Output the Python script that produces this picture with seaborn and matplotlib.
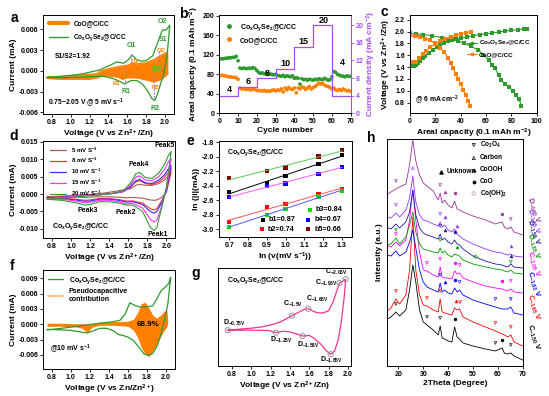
import numpy as np
import matplotlib
matplotlib.use('Agg')
import matplotlib.pyplot as plt
import seaborn as sns
from matplotlib.lines import Line2D
from matplotlib.ticker import FormatStrFormatter

# ---------------- data ----------------
CHEM = r'Co$_x$O$_y$Se$_z$@C/CC'

# panel a : CV @ 5 mV/s
a_g_v_up = [0.75, 0.9, 1.1, 1.3, 1.4, 1.49, 1.56, 1.61, 1.65, 1.7, 1.75, 1.8, 1.87, 1.92, 1.96, 1.98, 2.01, 2.05]
a_g_i_up = [-0.00095, -0.0008, -0.0005, 0.0001, 0.0007, 0.0013, 0.0011, 0.0016, 0.0023, 0.0016, 0.0014, 0.0015, 0.0022, 0.0040, 0.0055, 0.0060, 0.0059, 0.0066]
a_g_v_lo = [2.05, 2.02, 1.98, 1.95, 1.92, 1.89, 1.86, 1.82, 1.76, 1.70, 1.64, 1.60, 1.57, 1.53, 1.45, 1.35, 1.25, 1.10, 0.90, 0.75]
a_g_i_lo = [0.0066, 0.0020, -0.0008, -0.0020, -0.0034, -0.0043, -0.0040, -0.0030, -0.0019, -0.0014, -0.0014, -0.0017, -0.0019, -0.0016, -0.0011, -0.0008, -0.0008, -0.0009, -0.0010, -0.00095]
a_co_v = [0.75, 0.9, 1.0, 1.1, 1.2, 1.28, 1.32, 1.4, 1.5, 1.55, 1.6, 1.65, 1.7, 1.8, 1.88, 1.95, 2.0, 2.03]
a_co_up = [-0.0009, -0.0008, -0.0007, -0.0006, -0.0005, -0.0004, 0.0000, 0.0003, 0.0006, 0.0007, 0.0008, 0.0011, 0.0010, 0.0012, 0.0016, 0.0022, 0.0026, 0.0026]
a_co_lo = [-0.0011, -0.0012, -0.0012, -0.0012, -0.0012, -0.0010, -0.0008, -0.0007, -0.0009, -0.0012, -0.0010, -0.0010, -0.0010, -0.0013, -0.0016, -0.0013, -0.0008, -0.0004]

# panel b : rate performance
b_cycles = list(range(1, 71))
b_green = [112, 112, 113, 113, 114, 114, 115, 115, 117, 108,
           93, 92, 93, 92, 92, 93, 92, 94, 92, 88,
           84, 82, 83, 81, 82, 80, 81, 80, 79, 80,
           78, 77, 76, 78, 75, 77, 76, 75, 77, 72,
           73, 72, 60, 71, 69, 70, 68, 70, 69, 68,
           70, 69, 71, 70, 69, 72, 70, 68, 69, 75,
           86, 84, 80, 78, 77, 76, 75, 77, 76, 76]
b_orange = [78, 78, 77, 76, 75, 75, 74, 74, 73, 70,
            52, 50, 51, 49, 50, 49, 48, 50, 49, 47,
            47, 46, 46, 47, 45, 46, 45, 47, 48, 46,
            48, 47, 50, 44, 52, 48, 53, 50, 49, 52,
            42, 52, 50, 54, 53, 49, 52, 55, 50, 53,
            55, 58, 62, 60, 62, 58, 56, 55, 53, 50,
            52, 48, 47, 49, 47, 50, 48, 46, 47, 45]
b_cd_edges = [0, 10, 20, 30, 40, 50, 60, 70]
b_cd_vals = [4, 6, 8, 10, 15, 20, 4]
b_cd_labels = ['4', '6', '8', '10', '15', '20', '4']

# panel c : charge / discharge @ 6 mA cm-2
c_g_ch_x = [0, 3, 5, 6, 8, 10, 12, 15, 18, 21, 24, 27, 30, 33, 36, 40, 45, 50, 55, 60, 65, 70, 75, 80, 85, 90, 92]
c_g_ch_y = [1.42, 1.42, 1.43, 1.47, 1.51, 1.55, 1.59, 1.64, 1.69, 1.74, 1.78, 1.81, 1.84, 1.86, 1.88, 1.89, 1.91, 1.93, 1.95, 1.96, 1.98, 1.99, 2.01, 2.02, 2.03, 2.05, 2.05]
c_g_dis_x = [0, 5, 10, 17, 25, 33, 38, 43, 48, 54, 58, 62, 65, 67, 70, 72, 75, 78, 81, 84, 86, 88]
c_g_dis_y = [1.97, 1.96, 1.95, 1.93, 1.90, 1.87, 1.84, 1.80, 1.75, 1.69, 1.61, 1.52, 1.44, 1.38, 1.27, 1.18, 1.12, 1.07, 1.00, 0.93, 0.86, 0.75]
c_o_ch_x = [0, 3, 5, 7, 10, 13, 16, 20, 24, 28, 32, 36, 40, 44, 48]
c_o_ch_y = [1.49, 1.49, 1.49, 1.55, 1.62, 1.68, 1.74, 1.79, 1.84, 1.88, 1.91, 1.94, 1.96, 1.98, 2.00]
c_o_dis_x = [0, 4, 8, 12, 16, 20, 24, 27, 30, 32, 34, 36, 38, 40, 42, 44, 46, 47.5]
c_o_dis_y = [1.94, 1.93, 1.91, 1.88, 1.85, 1.80, 1.73, 1.65, 1.56, 1.47, 1.38, 1.29, 1.20, 1.12, 1.02, 0.93, 0.83, 0.75]

# panel d : CV at different scan rates
d_rates = ['5 mV S$^{-1}$', '8 mV S$^{-1}$', '10 mV S$^{-1}$', '15 mV S$^{-1}$', '20 mV S$^{-1}$']
d_v_up = [0.75, 0.9, 1.1, 1.3, 1.45, 1.55, 1.62, 1.68, 1.72, 1.78, 1.85, 1.92, 1.98, 2.02, 2.05]
d_i_up = [
    [-0.0008, -0.0006, -0.0003, 0.0001, 0.0007, 0.0012, 0.0015, 0.0025, 0.0028, 0.0025, 0.0025, 0.0030, 0.0040, 0.0052, 0.0062],
    [-0.0010, -0.0008, -0.0004, -0.0001, 0.0002, 0.0007, 0.0019, 0.0035, 0.0038, 0.0030, 0.0027, 0.0035, 0.0048, 0.0062, 0.0072],
    [-0.0012, -0.0009, -0.0005, -0.0002, 0.0002, 0.0007, 0.0020, 0.0038, 0.0042, 0.0032, 0.0030, 0.0040, 0.0055, 0.0072, 0.0082],
    [-0.0013, -0.0010, -0.0005, -0.0002, 0.0002, 0.0008, 0.0025, 0.0048, 0.0052, 0.0040, 0.0038, 0.0050, 0.0070, 0.0092, 0.0102],
    [-0.0015, -0.0012, -0.0007, -0.0003, 0.0002, 0.0010, 0.0030, 0.0058, 0.0062, 0.0047, 0.0045, 0.0060, 0.0085, 0.0110, 0.0122]]
d_v_lo = [2.05, 2.0, 1.95, 1.9, 1.87, 1.83, 1.75, 1.65, 1.58, 1.5, 1.4, 1.3, 1.2, 1.15, 1.05, 0.9, 0.75]
d_i_lo = [
    [0.0062, 0.0005, -0.0010, -0.0017, -0.0018, -0.0017, -0.0012, -0.0010, -0.0011, -0.0009, -0.0008, -0.0008, -0.0009, -0.0010, -0.0009, -0.0008, -0.0008],
    [0.0072, 0.0008, -0.0020, -0.0042, -0.0046, -0.0042, -0.0026, -0.0020, -0.0020, -0.0016, -0.0013, -0.0013, -0.0017, -0.0018, -0.0015, -0.0012, -0.0010],
    [0.0082, 0.0010, -0.0025, -0.0050, -0.0055, -0.0050, -0.0030, -0.0022, -0.0023, -0.0018, -0.0015, -0.0015, -0.0020, -0.0021, -0.0017, -0.0013, -0.0012],
    [0.0102, 0.0015, -0.0035, -0.0075, -0.0080, -0.0072, -0.0040, -0.0027, -0.0028, -0.0022, -0.0018, -0.0018, -0.0024, -0.0026, -0.0020, -0.0015, -0.0013],
    [0.0122, 0.0020, -0.0040, -0.0095, -0.0105, -0.0095, -0.0050, -0.0032, -0.0032, -0.0026, -0.0022, -0.0022, -0.0030, -0.0032, -0.0025, -0.0018, -0.0015]]

# panel e : b-values
e_logv = [0.699, 0.903, 1.0, 1.176, 1.301]
e_peak1 = [-2.49, -2.36, -2.27, -2.10, -1.98]
e_peak2 = [-2.90, -2.69, -2.65, -2.52, -2.45]
e_peak3 = [-2.97, -2.80, -2.72, -2.55, -2.47]
e_peak4 = [-2.56, -2.40, -2.37, -2.24, -2.14]
e_peak5 = [-2.30, -2.20, -2.15, -2.00, -1.91]
e_labels = ['b1=0.87', 'b2=0.74', 'b3=0.84', 'b4=0.67', 'b5=0.66']

# panel f : capacitive contribution @ 10 mV/s
f_v_up = [0.75, 0.9, 1.1, 1.3, 1.45, 1.52, 1.57, 1.62, 1.67, 1.72, 1.8, 1.86, 1.9, 1.95, 1.99, 2.03, 2.05]
f_i_up = [-0.0011, -0.0008, -0.0003, 0.0002, 0.0005, 0.0008, 0.0020, 0.0042, 0.0037, 0.0034, 0.0034, 0.0036, 0.0048, 0.0066, 0.0072, 0.0080, 0.0092]
f_v_lo = [2.05, 2.02, 1.98, 1.94, 1.9, 1.86, 1.82, 1.77, 1.72, 1.66, 1.6, 1.55, 1.5, 1.45, 1.38, 1.3, 1.22, 1.17, 1.1, 1.0, 0.9, 0.75]
f_i_lo = [0.0092, 0.0040, 0.0005, -0.0025, -0.0045, -0.0057, -0.0061, -0.0058, -0.0046, -0.0032, -0.0025, -0.0022, -0.0020, -0.0013, -0.0008, -0.0008, -0.0014, -0.0017, -0.0015, -0.0012, -0.0011, -0.0010]
f_o_v = [0.75, 0.9, 1.05, 1.12, 1.17, 1.22, 1.3, 1.45, 1.6, 1.66, 1.7, 1.74, 1.78, 1.82, 1.86, 1.9, 1.94, 1.98, 2.01, 2.02]
f_o_up = [0.0002, 0.0002, 0.0001, 0.0001, 0.0000, 0.0001, 0.0004, 0.0005, 0.0006, 0.0010, 0.0022, 0.0040, 0.0043, 0.0032, 0.0018, 0.0012, 0.0017, 0.0025, 0.0027, 0.0005]
f_o_lo = [-0.0004, -0.0004, -0.0005, -0.0008, -0.0017, -0.0006, -0.0002, -0.0002, -0.0004, -0.0012, -0.0025, -0.0045, -0.0058, -0.0063, -0.0052, -0.0040, -0.0025, -0.0012, -0.0005, 0.0005]
f_percent = '68.9%'

# panel g : ex-situ points on CV (arbitrary current units)
g_v_up = [0.76, 0.9, 1.0, 1.1, 1.2, 1.3, 1.42, 1.5, 1.55, 1.59, 1.63, 1.68, 1.74, 1.8, 1.85, 1.91, 1.94, 1.975]
g_i_up = [36.3, 37.5, 38.3, 39.5, 41.5, 44.5, 51, 55, 57.5, 58, 56, 54, 53.7, 56, 66, 84.3, 85.5, 88]
g_v_lo = [1.975, 1.96, 1.93, 1.9, 1.86, 1.82, 1.78, 1.72, 1.65, 1.6, 1.53, 1.47, 1.4, 1.33, 1.255, 1.18, 1.0, 0.76]
g_i_lo = [88, 70, 45, 27, 15, 12, 15, 22, 28, 31, 30.3, 32.5, 34.5, 35.3, 33.7, 36, 36.3, 36.3]
g_pts_v = [0.76, 1.255, 1.53, 1.82, 1.42, 1.59, 1.91, 1.975]
g_pts_i = [36.3, 33.7, 30.3, 12, 51, 58, 84.3, 88]
g_pts_lab = ['D$_{-0.75V}$', 'D$_{-1.25V}$', 'D$_{-1.55V}$', 'D$_{-1.85V}$',
             'C$_{-1.5V}$', 'C$_{-1.65V}$', 'C$_{-1.93V}$', 'C$_{-2.05V}$']

# panel h : ex-situ XRD (stacked, arbitrary units)
h_tt = [15, 17, 19, 20.5, 23, 24.5, 25.8, 27, 28.5, 30, 31.5, 34, 36, 36.8, 37.6, 38.6, 40, 41.5, 42.6, 43.6, 44.6, 46, 50, 55, 59, 61.7, 62.6, 64, 65.2, 66.5, 70]
h_C150 = [50, 53, 58, 54, 60, 80, 105, 88, 60, 48, 45, 40, 35, 44, 32, 31, 29, 28, 43, 33, 31, 27, 24, 21, 19, 22, 17, 16, 17, 14, 10]
h_C165 = [58, 62, 71, 66, 75, 100, 153, 100, 75, 65, 64, 60, 58, 71, 58, 57, 56, 55, 62, 60, 61, 53, 48, 43, 39, 36, 35, 33, 35, 28, 24]
h_C193 = [115, 114, 119, 114, 118, 128, 140, 122, 100, 88, 83, 80, 78, 87, 78, 80, 77, 76, 82, 78, 80, 75, 70, 66, 63, 61, 61, 61, 63, 57, 55]
h_C205 = [125, 123, 128, 124, 130, 150, 180, 150, 118, 100, 99, 95, 93, 103, 93, 92, 92, 91, 99, 96, 97, 92, 88, 84, 82, 81, 80, 79, 81, 78, 77]
h_D185 = [125, 126, 132, 126, 133, 145, 158, 138, 126, 121, 120, 118, 117, 122, 117, 119, 115, 113, 116, 115, 114, 110, 106, 103, 101, 100, 99, 98, 100, 97, 96]
h_D155 = [143, 141, 146, 142, 148, 158, 180, 155, 142, 137, 135, 133, 131, 136, 130, 132, 128, 126, 130, 126, 125, 121, 114, 109, 106, 105, 104, 103, 106, 103, 102]
h_D125 = [153, 152, 157, 153, 160, 172, 194, 168, 155, 150, 149, 146, 144, 148, 143, 145, 140, 138, 141, 136, 134, 131, 126, 121, 118, 117, 116, 115, 116, 114, 113]
h_D075 = [175, 178, 181, 183, 186, 205, 230, 209, 195, 187, 184, 179, 170, 177, 167, 170, 165, 162, 169, 161, 160, 158, 154, 150, 146, 148, 143, 141, 143, 138, 135]
h_names = ['C$_{-1.50}$ V', 'C$_{-1.65}$ V', 'C$_{-1.93}$ V', 'C$_{-2.05}$ V',
           'D$_{-1.85}$ V', 'D$_{-1.55}$ V', 'D$_{-1.25}$ V', 'D$_{-0.75}$ V']
h_phase_names = ['Co$_3$O$_4$', 'Carbon', 'CoOOH', 'CoO', 'Co(OH)$_2$']

# ---------------- style ----------------
sns.set_theme(style='ticks')
plt.rcParams.update({
    'font.family': ['Liberation Sans', 'DejaVu Sans'],
    'font.weight': 'bold',
    'axes.labelweight': 'bold',
    'font.size': 5.0,
    'axes.labelsize': 6,
    'xtick.labelsize': 5.0,
    'ytick.labelsize': 5.0,
    'axes.linewidth': 0.7,
    'xtick.major.width': 0.6, 'ytick.major.width': 0.6,
    'xtick.major.size': 2.2, 'ytick.major.size': 2.2,
    'xtick.major.pad': 1.5, 'ytick.major.pad': 1.5,
    'xtick.direction': 'out', 'ytick.direction': 'out',
    'mathtext.fontset': 'custom',
    'mathtext.rm': 'Liberation Sans:bold',
    'mathtext.bf': 'Liberation Sans:bold',
    'mathtext.it': 'Liberation Sans:bold:italic',
    'mathtext.default': 'bf',
    'legend.frameon': False,
    'axes.edgecolor': 'black', 'axes.labelcolor': 'black',
    'xtick.color': 'black', 'ytick.color': 'black', 'text.color': 'black',
})

ORANGE = '#ff8000'
GREEN = '#2e9a2e'
PURPLE = '#a64dff'
W, H = 549, 396
fig = plt.figure(figsize=(W / 100, H / 100), dpi=100)


def add_ax(l, t, r, b):
    return fig.add_axes([l / W, 1 - b / H, (r - l) / W, (b - t) / H])


def line(ax, x, y, color, lw=0.8, **kw):
    sns.lineplot(x=list(x), y=list(y), sort=False, estimator=None, ax=ax,
                 color=color, linewidth=lw, **kw)


def letter(s, x, y):
    fig.text(x / W, 1 - y / H, s, fontsize=10, fontweight='bold', ha='center', va='center')


LEGFS = 4.7

# ---------------- panel a ----------------
ax = add_ax(43.3, 15, 174, 114.3)
ax.fill_between(a_co_v, a_co_lo, a_co_up, color=ORANGE, lw=0)
line(ax, a_co_v, a_co_up, ORANGE, 1.0)
line(ax, a_co_v, a_co_lo, ORANGE, 1.0)
line(ax, a_g_v_up + a_g_v_lo, a_g_i_up + a_g_i_lo, GREEN, 0.9)
for xv, y0, y1 in [(1.575, -0.0016, 0.0002), (1.64, 0.0010, 0.0025), (1.88, -0.0040, -0.0005), (1.935, 0.0015, 0.0030)]:
    ax.plot([xv, xv], [y0, y1], color='#b266ff', lw=0.8, ls=(0, (2, 1.5)))
ax.set_xlim(0.71, 2.095)
ax.set_ylim(-0.0063, 0.0081)
ax.set_xticks([0.8, 1.0, 1.2, 1.4, 1.6, 1.8, 2.0])
ax.set_yticks([-0.006, -0.003, 0.0, 0.003, 0.006])
ax.yaxis.set_major_formatter(FormatStrFormatter('%.3f'))
ax.xaxis.set_major_formatter(FormatStrFormatter('%.1f'))
ax.set_xlabel('Voltage (V vs Zn$^{2+}$/Zn)', labelpad=1)
ax.set_ylabel('Current (mA)', labelpad=1)
ax.legend(handles=[Line2D([], [], color=ORANGE, lw=3), Line2D([], [], color=GREEN, lw=1)],
          labels=['CoO@C/CC', CHEM], loc='upper left', bbox_to_anchor=(0.0, 1.0),
          fontsize=LEGFS, handlelength=3.0, labelspacing=0.8, borderaxespad=0.4)
ax.text(0.835, 0.00205, 'S1/S2=1.92', fontsize=4.9, va='center')
ax.text(0.765, -0.0047, '0.75~2.05 V @ 5 mV s$^{-1}$', fontsize=4.9, va='center')
for s, x, y, c, fs in [('O1', 1.648, 0.0037, GREEN, 5), ('O2', 1.977, 0.0072, GREEN, 5),
                       ('S1', 1.98, 0.0045, GREEN, 5), ("O2'", 1.966, 0.0030, ORANGE, 4.2),
                       ("O1'", 1.69, 0.0013, ORANGE, 4.2), ('S2', 1.91, 0.0002, '#33cc33', 6),
                       ("R1'", 1.49, -0.0018, ORANGE, 4.2), ('R1', 1.59, -0.0030, GREEN, 5),
                       ("R2'", 1.906, -0.0024, ORANGE, 4.2), ('R2', 1.895, -0.0055, GREEN, 5)]:
    ax.text(x, y, s, color=c, fontsize=fs, ha='center', va='center')
letter('a', 14, 18)

# ---------------- panel b ----------------
ax = add_ax(219.3, 15, 350.7, 113.3)
sns.scatterplot(x=b_cycles, y=b_green, ax=ax, color=GREEN, s=7, edgecolor='none', marker='o')
sns.scatterplot(x=b_cycles, y=b_orange, ax=ax, color=ORANGE, s=7, edgecolor='none', marker='o')
ax.set_xlim(0, 70)
ax.set_ylim(0, 202)
ax.set_xticks(range(0, 71, 10))
ax.set_yticks(range(0, 201, 40))
ax.set_xlabel('Cycle number', labelpad=1)
ax.set_ylabel('Areal capacity (0.1 mAh m$^{-2}$)', labelpad=1)
ax2 = ax.twinx()
line(ax2, b_cd_edges, b_cd_vals + [b_cd_vals[-1]], PURPLE, 0.9, drawstyle='steps-post')
ax2.set_ylim(0, 22.3)
ax2.set_yticks(range(0, 21, 4))
ax2.spines['right'].set_color(PURPLE)
ax2.tick_params(axis='y', colors=PURPLE, width=0.6, length=2.2, pad=1.5, labelsize=5)
ax2.set_ylabel('Current density (mA cm$^{-2}$)', color=PURPLE, labelpad=1)
for s, x, y in zip(b_cd_labels, [5.3, 15.5, 25.6, 35.5, 45, 55.4, 65.7], [48, 66, 81, 103, 147, 190, 104]):
    ax.text(x, y, s, fontsize=6.5, ha='center', va='center')
ax.legend(handles=[Line2D([], [], color=GREEN, marker='o', ms=2.5, lw=0),
                   Line2D([], [], color=ORANGE, marker='o', ms=2.5, lw=0)],
          labels=[CHEM, 'CoO@C/CC'], loc='upper left', bbox_to_anchor=(0.0, 0.98),
          fontsize=5.0, handlelength=1.5, labelspacing=0.6, borderaxespad=0.3)
letter('b', 183, 14)

# ---------------- panel c ----------------
ax = add_ax(410, 15, 536.7, 113.3)
for xs, ys, c in [(c_g_ch_x, c_g_ch_y, GREEN), (c_g_dis_x, c_g_dis_y, GREEN),
                  (c_o_ch_x, c_o_ch_y, ORANGE), (c_o_dis_x, c_o_dis_y, ORANGE)]:
    line(ax, xs, ys, c, 0.8, marker='s', markersize=2.2, markeredgewidth=0)
ax.set_xlim(0, 100)
ax.set_ylim(0.62, 2.28)
ax.set_xticks(range(0, 101, 20))
ax.set_yticks([0.8, 1.0, 1.2, 1.4, 1.6, 1.8, 2.0, 2.2])
ax.yaxis.set_major_formatter(FormatStrFormatter('%.1f'))
ax.set_xlabel('Areal capacity (0.1 mAh m$^{-2}$)', labelpad=1)
ax.set_ylabel('Voltage (V vs Zn$^{2+}$/Zn)', labelpad=1)
ax.legend(handles=[Line2D([], [], color=GREEN, marker='s', ms=2.0, lw=0.8),
                   Line2D([], [], color=ORANGE, marker='s', ms=2.0, lw=0.8)],
          labels=[CHEM, 'CoO@C/CC'], loc='upper left', bbox_to_anchor=(0.42, 0.80),
          fontsize=4.5, handlelength=1.6, handletextpad=0.3, labelspacing=0.5, borderaxespad=0.2)
ax.text(0.04, 0.13, '@ 6 mA cm$^{-2}$', transform=ax.transAxes, fontsize=4.9, va='center')
letter('c', 384, 12)

# ---------------- panel d ----------------
ax = add_ax(43.3, 141, 175, 238.3)
d_cols = ['#a85a55', '#ff3030', '#3030ff', '#ff30ff', '#30a030']
for k in range(5):
    line(ax, d_v_up + d_v_lo, d_i_up[k] + d_i_lo[k], d_cols[k], 0.8)
ax.set_xlim(0.71, 2.09)
ax.set_ylim(-0.0127, 0.0152)
ax.set_xticks([0.8, 1.0, 1.2, 1.4, 1.6, 1.8, 2.0])
ax.set_yticks([-0.010, -0.005, 0.0, 0.005, 0.010, 0.015])
ax.yaxis.set_major_formatter(FormatStrFormatter('%.3f'))
ax.xaxis.set_major_formatter(FormatStrFormatter('%.1f'))
ax.set_xlabel('Voltage (V vs Zn$^{2+}$/Zn)', labelpad=1)
ax.set_ylabel('Current (mA)', labelpad=1)
ax.legend(handles=[Line2D([], [], color=c, lw=0.9) for c in d_cols], labels=d_rates,
          loc='upper left', bbox_to_anchor=(0.02, 1.0), fontsize=4.4, handlelength=2.6,
          labelspacing=0.25, borderaxespad=0.3)
for s, x, y in [('Peak5', 1.98, 0.0138), ('Peak4', 1.71, 0.0086), ('Peak3', 1.18, -0.0048),
                ('Peak2', 1.57, -0.0053), ('Peak1', 1.905, -0.0115)]:
    ax.text(x, y, s, fontsize=5, ha='center', va='center')
ax.text(0.8, -0.0093, CHEM, fontsize=5, va='center')
letter('d', 14, 136)

# ---------------- panel e ----------------
ax = add_ax(219.3, 141, 351.7, 237.3)
e_pt_cols = ['black', '#ff0000', '#00e000', '#0000ff', '#800000']
e_ln_cols = ['black', '#ff5555', '#5555ff', '#ff55ff', '#55cc55']
e_series = [e_peak1, e_peak2, e_peak3, e_peak4, e_peak5]
xx = np.array([0.699, 1.301])
for ys, pc, lc in zip(e_series, e_pt_cols, e_ln_cols):
    sl, ic = np.polyfit(e_logv, ys, 1)
    ax.plot(xx, sl * xx + ic, color=lc, lw=0.7)
    sns.scatterplot(x=e_logv, y=ys, ax=ax, color=pc, marker='s', s=9, edgecolor='none')
ax.set_xlim(0.647, 1.353)
ax.set_ylim(-3.11, -1.786)
ax.set_xticks([0.7, 0.8, 0.9, 1.0, 1.1, 1.2, 1.3])
ax.set_yticks([-3.0, -2.8, -2.6, -2.4, -2.2, -2.0, -1.8])
ax.yaxis.set_major_formatter(FormatStrFormatter('%.1f'))
ax.set_xlabel('ln (v(mV s$^{-1}$))', labelpad=1)
ax.set_ylabel('ln (|i|(mA))', labelpad=1)
ax.text(0.055, 0.88, CHEM, transform=ax.transAxes, fontsize=5, va='center')
for (mx, my), lab, c in zip([(0.327, 0.18), (0.32, 0.083), (0.685, 0.284), (0.672, 0.18), (0.672, 0.083)],
                            e_labels, e_pt_cols):
    ax.scatter([mx], [my], transform=ax.transAxes, marker='s', s=9, color=c, edgecolor='none')
    ax.text(mx + 0.045, my, lab, transform=ax.transAxes, fontsize=5.2, va='center')
letter('e', 190, 141)

# ---------------- panel f ----------------
ax = add_ax(43.3, 270, 175, 369.3)
ax.fill_between(f_o_v, f_o_lo, f_o_up, color=ORANGE, lw=0)
line(ax, f_v_up + f_v_lo, f_i_up + f_i_lo, GREEN, 0.9)
ax.set_xlim(0.71, 2.095)
ax.set_ylim(-0.0088, 0.0106)
ax.set_xticks([0.8, 1.0, 1.2, 1.4, 1.6, 1.8, 2.0])
ax.set_yticks([-0.006, -0.003, 0.0, 0.003, 0.006, 0.009])
ax.yaxis.set_major_formatter(FormatStrFormatter('%.3f'))
ax.xaxis.set_major_formatter(FormatStrFormatter('%.1f'))
ax.set_xlabel('Voltage (V vs Zn/Zn$^{2+}$)', labelpad=1)
ax.set_ylabel('Current (mA)', labelpad=1)
ax.legend(handles=[Line2D([], [], color=GREEN, lw=1), Line2D([], [], color='#ffb366', lw=1.2)],
          labels=[CHEM, 'Pseudocapacitive\ncontribution'], loc='upper left',
          bbox_to_anchor=(0.0, 1.0), fontsize=5.0, handlelength=2.2, labelspacing=0.4,
          borderaxespad=0.3)
ax.text(1.81, -0.0001, f_percent, fontsize=5.8, ha='center', va='center')
ax.text(0.78, -0.005, '@10 mV s$^{-1}$', fontsize=5, va='center')
letter('f', 12, 266)

# ---------------- panel g ----------------
ax = add_ax(217.7, 268.3, 351, 366)
PINK = '#f5338f'
line(ax, g_v_up + g_v_lo, g_i_up + g_i_lo, PINK, 0.9)
ax.scatter(g_pts_v, g_pts_i, s=14, facecolor='none', edgecolor='#888888', linewidth=0.6, zorder=5)
ax.set_xlim(0.655, 2.03)
ax.set_ylim(0, 99)
ax.set_xticks([0.8, 1.0, 1.2, 1.4, 1.6, 1.8, 2.0])
ax.xaxis.set_major_formatter(FormatStrFormatter('%.1f'))
ax.set_yticks([])
ax.set_xlabel('Voltage (V vs Zn$^{2+}$/Zn)', labelpad=1)
g_lab_pos = [(0.71, 44, 'left'), (1.19, 26, 'left'), (1.47, 21, 'left'), (1.71, 6, 'left'),
             (1.33, 63, 'left'), (1.57, 68, 'left'), (1.89, 84, 'right'), (2.0, 95, 'right')]
for lab, (x, y, ha) in zip(g_pts_lab, g_lab_pos):
    ax.text(x, y, lab, fontsize=5, va='center', ha=ha)
ax.text(0.75, 87, CHEM, fontsize=5, va='center')
letter('g', 196, 273)

# ---------------- panel h ----------------
ax = add_ax(386.7, 139, 523, 366)
h_all = [h_C150, h_C165, h_C193, h_C205, h_D185, h_D155, h_D125, h_D075]
h_cols = ['black', '#ff0000', '#0000ff', '#ff00ff', '#009900', '#1a1a99', '#9933ff', '#993399']
for ys, c in zip(h_all, h_cols):
    line(ax, h_tt, ys, c, 0.6)

MK = {'co3o4': dict(marker='v', fc='none'), 'carbon': dict(marker='^', fc='none'),
      'cooh': dict(marker='^', fc='fill'), 'coo': dict(marker='o', fc='fill'),
      'coh': dict(marker='D', fc='none'), 'unk': dict(marker='^', fc='fill')}
h_marks = [
    (0, 19, 'co3o4'), (0, 31.5, 'co3o4'), (0, 36.8, 'co3o4'), (0, 42.6, 'coo'), (0, 59, 'co3o4'), (0, 61.7, 'coo'), (0, 65.2, 'co3o4'),
    (1, 19, 'co3o4'), (1, 31.5, 'co3o4'), (1, 36.8, 'co3o4'), (1, 43.2, 'unk'), (1, 44.8, 'co3o4'), (1, 59, 'co3o4'), (1, 65.2, 'co3o4'),
    (2, 36.8, 'co3o4'), (2, 38.6, 'cooh'), (2, 42.6, 'coo'), (2, 44.6, 'co3o4'), (2, 59, 'co3o4'), (2, 65.2, 'co3o4'),
    (3, 19, 'co3o4'), (3, 31.5, 'co3o4'), (3, 36.8, 'co3o4'), (3, 42.6, 'coo'), (3, 44.6, 'co3o4'), (3, 61.7, 'coo'), (3, 65.2, 'co3o4'),
    (4, 19, 'co3o4'), (4, 36.8, 'co3o4'), (4, 43.6, 'cooh'), (4, 51, 'coh'), (4, 65.2, 'co3o4'),
    (5, 36.8, 'co3o4'), (5, 38.6, 'cooh'), (5, 42.6, 'coo'), (5, 65.2, 'cooh'),
    (6, 19, 'co3o4'), (6, 25.8, 'carbon'), (6, 36.8, 'co3o4'), (6, 38.6, 'cooh'), (6, 43.6, 'cooh'), (6, 65.2, 'cooh'),
    (7, 19, 'co3o4'), (7, 36.8, 'co3o4'), (7, 38.6, 'cooh'), (7, 42.6, 'coo'), (7, 61.7, 'coo'), (7, 65.2, 'co3o4')]
for ci, t, kind in h_marks:
    c = h_cols[ci]
    yv = np.interp(t, h_tt, h_all[ci]) + 8
    m = MK[kind]
    ax.scatter([t], [yv], marker=m['marker'], s=4, linewidth=0.45, edgecolor=c,
               facecolor=(c if m['fc'] == 'fill' else 'none'), zorder=4)
# phase legend
for (kind, lab, hy) in [('co3o4', h_phase_names[0], 225), ('carbon', h_phase_names[1], 212),
                        ('cooh', h_phase_names[2], 200), ('coo', h_phase_names[3], 188),
                        ('coh', h_phase_names[4], 176.5)]:
    m = MK[kind]
    c = '#c0a0a0' if kind == 'coh' else 'black'
    ax.scatter([50.3], [hy], marker=m['marker'], s=5, linewidth=0.5, edgecolor=c,
               facecolor=(c if m['fc'] == 'fill' else 'none'))
    ax.text(52.8, hy, lab, fontsize=4.7, va='center')
ax.scatter([37.2], [198], marker='^', s=5, color='black')
ax.text(39.4, 198, 'Unknown', fontsize=4.7, va='center')
ax.set_xlim(15.3, 70.1)
ax.set_ylim(4, 231)
ax.set_xticks(range(20, 71, 10))
ax.set_yticks([])
ax.set_xlabel('2Theta (Degree)', labelpad=1)
ax.set_ylabel('Intensity (a.u.)', labelpad=3)
for name, c, py in zip(h_names, h_cols, [323, 293, 270, 250, 232, 218, 207, 196]):
    fig.text(524.5 / W, 1 - py / H, name, color=c, fontsize=5.2, rotation=-72,
             ha='left', va='top')
letter('h', 371, 138)

fig.savefig('out.png', dpi=100)
